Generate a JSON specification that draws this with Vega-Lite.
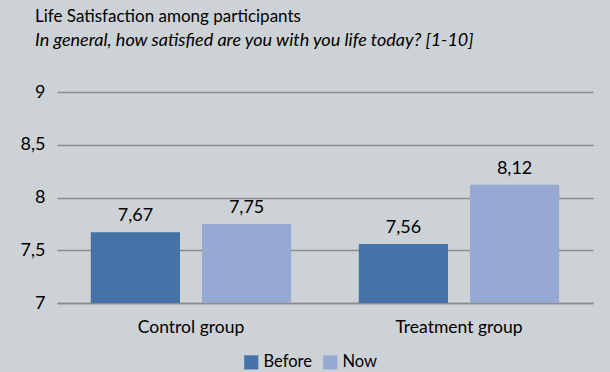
{
  "$schema": "https://vega.github.io/schema/vega-lite/v6.json",
  "width": 536,
  "height": 211,
  "autosize": {"type": "none"},
  "padding": {"left": 57, "top": 92, "right": 17, "bottom": 69},
  "background": "#cdd2d6",
  "title": {
    "text": "Life Satisfaction among participants",
    "subtitle": "In general, how satisfied are you with you life today? [1-10]",
    "anchor": "start",
    "frame": "group",
    "dx": -22,
    "offset": 32,
    "font": "Lato",
    "fontSize": 17,
    "fontWeight": "normal",
    "color": "#000000",
    "subtitleFont": "Lato",
    "subtitleFontSize": 18,
    "subtitleFontStyle": "italic",
    "subtitleColor": "#000000",
    "subtitlePadding": 6
  },
  "config": {
    "locale": {"number": {"decimal": ",", "thousands": ".", "grouping": [3], "currency": ["", " €"]}},
    "view": {"stroke": null},
    "font": "Lato"
  },
  "data": {
    "values": [
      {"group": "Control group", "period": "Before", "value": 7.67},
      {"group": "Control group", "period": "Now", "value": 7.75},
      {"group": "Treatment group", "period": "Before", "value": 7.56},
      {"group": "Treatment group", "period": "Now", "value": 8.12}
    ]
  },
  "encoding": {
    "x": {
      "field": "group",
      "type": "nominal",
      "title": null,
      "scale": {"paddingInner": 0, "paddingOuter": 0},
      "axis": {
        "labelAngle": 0,
        "labelFont": "Lato",
        "labelFontSize": 17.5,
        "labelColor": "#000000",
        "labelPadding": 15,
        "ticks": false,
        "domainColor": "#8c8c8c",
        "domainWidth": 1.5,
        "grid": false
      }
    },
    "xOffset": {
      "field": "period",
      "type": "nominal",
      "scale": {"paddingInner": 0.198, "paddingOuter": 0.304}
    },
    "y": {
      "field": "value",
      "type": "quantitative",
      "title": null,
      "scale": {"domain": [7, 9], "zero": false, "nice": false},
      "axis": {
        "values": [7, 7.5, 8, 8.5, 9],
        "format": "~g",
        "labelFont": "Lato",
        "labelFontSize": 18,
        "labelColor": "#000000",
        "labelPadding": 12,
        "ticks": false,
        "domain": false,
        "gridColor": "#8c8c8c",
        "gridWidth": 1.5
      }
    }
  },
  "layer": [
    {
      "mark": {"type": "bar", "clip": true},
      "encoding": {
        "y2": {"datum": 7},
        "color": {
          "field": "period",
          "type": "nominal",
          "scale": {"domain": ["Before", "Now"], "range": ["#4572a7", "#95a9d2"]},
          "legend": {
            "title": null,
            "orient": "none",
            "direction": "horizontal",
            "legendX": 186,
            "legendY": 262,
            "symbolType": "square",
            "symbolSize": 200,
            "symbolStrokeWidth": 0,
            "labelFont": "Lato",
            "labelFontSize": 16.5,
            "labelColor": "#000000",
            "labelOffset": 4,
            "columnPadding": 10
          }
        }
      }
    },
    {
      "mark": {"type": "text", "baseline": "bottom", "dy": -7, "font": "Lato", "fontSize": 18, "color": "#000000"},
      "encoding": {
        "text": {"field": "value", "type": "quantitative", "format": ".2f"}
      }
    }
  ]
}
